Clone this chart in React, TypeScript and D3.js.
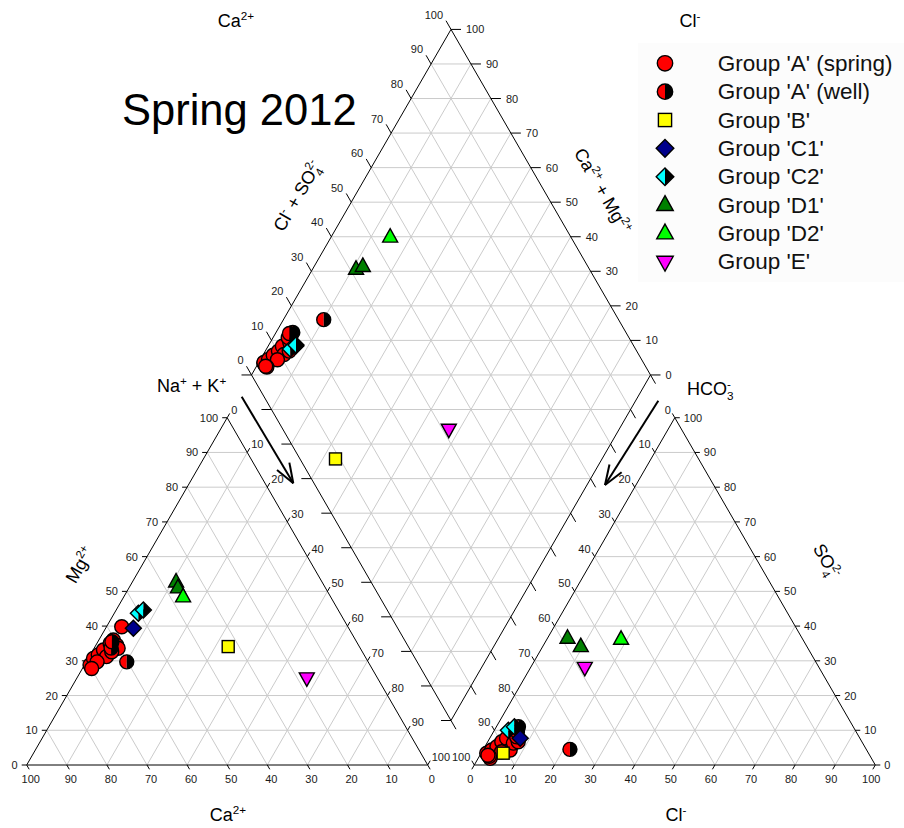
import React, { useEffect, useRef } from 'react';
import * as d3 from 'd3';

// legend groups
const groupKeys = ['As', 'Aw', 'B', 'C1', 'C2', 'D1', 'D2', 'E'];
const groupLabels = ["Group 'A' (spring)", "Group 'A' (well)", "Group 'B'", "Group 'C1'", "Group 'C2'", "Group 'D1'", "Group 'D2'", "Group 'E'"];

// samples (meq %), one entry per sample
const sampleGroup = ['As', 'As', 'As', 'As', 'As', 'As', 'As', 'As', 'As', 'As', 'As', 'As', 'As', 'Aw', 'Aw', 'Aw', 'B', 'C1', 'C2', 'C2', 'D1', 'D1', 'D2', 'E'];
const caPct = [69.8, 68.0, 66.3, 64.3, 61.7, 60.4, 60.3, 60.4, 64.5, 67.6, 69.9, 62.5, 56.4, 60.2, 62.1, 61.0, 32.7, 53.7, 50.3, 48.6, 36.4, 36.8, 36.8, 17.6];
const mgPct = [28.8, 30.7, 31.7, 33.1, 35.0, 36.0, 34.5, 33.6, 31.2, 29.7, 27.8, 32.6, 39.8, 29.7, 33.7, 35.5, 34.1, 39.4, 43.7, 44.6, 52.7, 51.0, 48.4, 25.1];
const nakPct = [1.4, 1.3, 2.0, 2.6, 3.3, 3.6, 5.2, 6.0, 4.3, 2.7, 2.3, 4.9, 3.8, 10.1, 4.2, 3.5, 33.2, 6.9, 6.0, 6.8, 10.9, 12.2, 14.8, 57.3];
const clPct = [1.4, 3.0, 2.2, 3.0, 3.5, 4.2, 6.8, 6.6, 4.9, 2.5, 2.0, 7.6, 6.5, 21.6, 5.5, 6.0, 5.5, 7.6, 3.5, 4.5, 5.0, 9.5, 18.5, 13.5];
const so4Pct = [3.4, 1.9, 4.3, 5.3, 6.7, 7.7, 4.3, 6.3, 3.8, 2.5, 2.8, 6.7, 8.1, 4.5, 11.0, 9.5, 3.4, 7.7, 10.0, 11.0, 36.5, 34.1, 36.2, 28.1];
const hco3Pct = [95.2, 95.1, 93.5, 91.7, 89.8, 88.1, 88.9, 87.1, 91.3, 95.0, 95.2, 85.7, 85.4, 73.9, 83.5, 84.5, 91.1, 84.7, 86.5, 84.5, 58.5, 56.4, 45.3, 58.4];

const tickValues = [0, 10, 20, 30, 40, 50, 60, 70, 80, 90, 100];
const gridValues = [10, 20, 30, 40, 50, 60, 70, 80, 90];

const FONT = "'Liberation Sans', Arial, sans-serif";
const S3 = Math.sqrt(3) / 2;

function App() {
  const ref = useRef(null);

  useEffect(() => {
    const svg = d3.select(ref.current);
    svg.selectAll('*').remove();

    // geometry
    const L = 401, base = 765, leftX0 = 26.7, rightX0 = 474.3;
    const Ld = 399, dcx = 451, dBottom = 720.5;

    const sx = d3.scaleLinear().domain([0, 100]).range([0, L]);
    const sy = d3.scaleLinear().domain([0, 100]).range([0, L * S3]);
    const dsx = d3.scaleLinear().domain([0, 100]).range([0, Ld / 2]);
    const dsy = d3.scaleLinear().domain([0, 100]).range([0, Ld * S3]);

    // cation triangle (mg, na+k), anion triangle (cl, so4), diamond (ca+mg, cl+so4)
    const cat = (mg, na) => [leftX0 + sx(na) + sx(mg) / 2, base - sy(mg)];
    const an = (cl, so4) => [rightX0 + sx(cl) + sx(so4) / 2, base - sy(so4)];
    const dia = (p, q) => [dcx + dsx(q) - dsx(p), dBottom - dsy(p) - dsy(q)];

    const grid = svg.append('g').attr('stroke', '#cbcbcb').attr('stroke-width', 1);
    const seg = (g, a, b) => g.append('line').attr('x1', a[0]).attr('y1', a[1]).attr('x2', b[0]).attr('y2', b[1]);

    gridValues.forEach(v => {
      // left triangle
      seg(grid, cat(v, 0), cat(v, 100 - v));
      seg(grid, cat(0, v), cat(100 - v, v));
      seg(grid, cat(100 - v, 0), cat(0, 100 - v));
      // right triangle
      seg(grid, an(0, v), an(100 - v, v));
      seg(grid, an(v, 0), an(v, 100 - v));
      seg(grid, an(100 - v, 0), an(0, 100 - v));
      // diamond
      seg(grid, dia(v, 0), dia(v, 100));
      seg(grid, dia(0, v), dia(100, v));
    });
    d3.range(10, 200, 10).forEach(s => {
      if (s <= 100) seg(grid, dia(s, 0), dia(0, s));
      else seg(grid, dia(100, s - 100), dia(s - 100, 100));
    });

    // outlines
    const axes = svg.append('g').attr('stroke', '#000').attr('stroke-width', 1).attr('fill', 'none');
    const poly = pts => axes.append('path').attr('d', d3.line()(pts) + 'Z');
    poly([cat(0, 0), cat(0, 100), cat(100, 0)]);
    poly([an(0, 0), an(100, 0), an(0, 100)]);
    poly([dia(0, 0), dia(100, 0), dia(100, 100), dia(0, 100)]);

    const tickG = svg.append('g').attr('stroke', '#000').attr('stroke-width', 1);
    const labG = svg.append('g').attr('font-family', FONT).attr('font-size', 11).attr('fill', '#1a1a1a');
    const lab = (x, y, t, anchor) => labG.append('text').attr('x', x).attr('y', y).attr('text-anchor', anchor).text(t);
    const tick = (p, dx, dy) => seg(tickG, p, [p[0] + dx, p[1] + dy]);

    tickValues.forEach(v => {
      // left triangle: Ca bottom, Mg left, Na+K right
      let p = cat(0, 100 - v);
      tick(p, 2.5, 4.3); lab(p[0] + 4, 783, v, 'middle');
      p = cat(v, 0);
      tick(p, -5, 0); lab(p[0] - 9, p[1] + 4, v, 'end');
      p = cat(100 - v, v);
      tick(p, 2.5, -4.3); lab(p[0] + 4, p[1] - 4, v, 'start');
      // right triangle: Cl bottom, SO4 right, HCO3 left
      p = an(v, 0);
      tick(p, -2.5, 4.3); lab(p[0] - 4, 783, v, 'middle');
      p = an(100 - v, v);
      tick(p, 5, 0); lab(p[0] + 9, p[1] + 4, v, 'start');
      p = an(0, 100 - v);
      tick(p, -2.5, -4.3); lab(p[0] - 4, p[1] - 4, v, 'end');
      // diamond
      p = dia(100, v);
      tick(p, -5, -8.7); lab(p[0] - 8, p[1] - 10.5, v, 'end');
      p = dia(v, 100);
      tick(p, 10, 0); lab(p[0] + 15, p[1] + 4, v, 'start');
      tick(dia(v, 0), -10, 0);
      tick(dia(0, v), 5, 8.7);
    });

    // rich text helper: parts [text, kind]
    const rich = (g, x, y, parts, size, anchor) => {
      const t = g.append('text').attr('x', x).attr('y', y).attr('text-anchor', anchor)
        .attr('font-family', FONT).attr('font-size', size).attr('fill', '#000');
      let cur = 0;
      parts.forEach(([txt, kind]) => {
        const target = kind === 'sup' || kind === 'stack' ? -size * 0.4 : kind === 'sub' ? size * 0.3 : 0;
        const ts = t.append('tspan').attr('dy', target - cur).text(txt);
        if (kind !== '') ts.attr('font-size', size * 0.65);
        if (kind === 'stack') ts.attr('dx', -size * 0.36);
        cur = target;
      });
      return t;
    };
    const rot = (cx, cy, a, parts) => {
      const g = svg.append('g').attr('transform', `translate(${cx},${cy}) rotate(${a})`);
      rich(g, 0, 6, parts, 18, 'middle');
    };

    const caT = [['Ca', ''], ['2+', 'sup']];
    const clT = [['Cl', ''], ['-', 'sup']];
    rich(svg, 236, 27, caT, 18, 'middle');
    rich(svg, 690, 27, clT, 18, 'middle');
    rich(svg, 228, 821, caT, 18, 'middle');
    rich(svg, 676, 821, clT, 18, 'middle');
    rich(svg, 157, 392, [['Na', ''], ['+', 'sup'], [' + K', ''], ['+', 'sup']], 18, 'start');
    rich(svg, 687, 395, [['HCO', ''], ['3', 'sub'], ['-', 'stack']], 18, 'start');
    rot(80, 565, -60, [['Mg', ''], ['2+', 'sup']]);
    rot(297.5, 196, -60, [['Cl', ''], ['-', 'sup'], [' + SO', ''], ['4', 'sub'], ['2-', 'stack']]);
    rot(602.5, 191, 60, [['Ca', ''], ['2+', 'sup'], [' + Mg', ''], ['2+', 'sup']]);
    rot(826.7, 561, 60, [['SO', ''], ['4', 'sub'], ['2-', 'stack']]);

    svg.append('text').attr('x', 122).attr('y', 125).attr('font-family', FONT)
      .attr('font-size', 43.5).attr('fill', '#000').text('Spring 2012');

    // arrows
    const arrow = (a, b) => {
      const g = svg.append('g').attr('stroke', '#000').attr('stroke-width', 2).attr('fill', 'none');
      seg(g, a, b);
      const ang = Math.atan2(a[1] - b[1], a[0] - b[0]);
      [-0.35, 0.35].forEach(d => {
        seg(g, b, [b[0] + 21 * Math.cos(ang + d), b[1] + 21 * Math.sin(ang + d)]);
      });
    };
    arrow([241.7, 396.7], [293.3, 483.3]);
    arrow([658.3, 400.7], [605, 485]);

    // markers
    const marker = (g, key, x, y, k) => {
      const sw = 1.4;
      const m = g.append('g').attr('transform', `translate(${x},${y}) scale(${k})`)
        .attr('stroke', '#000').attr('stroke-width', sw / k);
      const r = 7;
      if (key === 'As') m.append('circle').attr('r', r).attr('fill', '#ff0000');
      else if (key === 'Aw') {
        m.append('path').attr('d', `M0,${-r}A${r},${r} 0 0 0 0,${r}Z`).attr('fill', '#ff0000').attr('stroke', 'none');
        m.append('path').attr('d', `M0,${-r}A${r},${r} 0 0 1 0,${r}Z`).attr('fill', '#000').attr('stroke', 'none');
        m.append('circle').attr('r', r).attr('fill', 'none');
      } else if (key === 'B') m.append('rect').attr('x', -6).attr('y', -6).attr('width', 12).attr('height', 12).attr('fill', '#ffff00');
      else if (key === 'C1') m.append('path').attr('d', 'M0,-8L8,0L0,8L-8,0Z').attr('fill', '#00008b');
      else if (key === 'C2') {
        m.append('path').attr('d', 'M0,-8L0,8L-8,0Z').attr('fill', '#00ffff').attr('stroke', 'none');
        m.append('path').attr('d', 'M0,-8L8,0L0,8Z').attr('fill', '#000').attr('stroke', 'none');
        m.append('path').attr('d', 'M0,-8L8,0L0,8L-8,0Z').attr('fill', 'none');
      } else if (key === 'D1' || key === 'D2') m.append('path').attr('d', 'M0,-8.5L7.5,5L-7.5,5Z').attr('fill', key === 'D1' ? '#008000' : '#00ff00');
      else if (key === 'E') m.append('path').attr('d', 'M0,8.5L7.5,-5L-7.5,-5Z').attr('fill', '#ff00ff');
    };

    const pts = svg.append('g');
    sampleGroup.forEach((key, i) => {
      const c = cat(mgPct[i], nakPct[i]);
      marker(pts, key, c[0], c[1], 1);
    });
    sampleGroup.forEach((key, i) => {
      const a = an(clPct[i], so4Pct[i]);
      marker(pts, key, a[0], a[1], 1);
    });
    sampleGroup.forEach((key, i) => {
      const d = dia(caPct[i] + mgPct[i], 100 - hco3Pct[i]);
      marker(pts, key, d[0], d[1], 1);
    });

    // legend
    const leg = svg.append('g');
    leg.append('rect').attr('x', 638).attr('y', 43).attr('width', 266).attr('height', 239).attr('fill', '#fcfcfc');
    groupKeys.forEach((key, i) => {
      const y = 63.3 + i * 28.35;
      marker(leg, key, 665, y, 1.1);
      leg.append('text').attr('x', 717.7).attr('y', y + 7.5).attr('font-family', FONT)
        .attr('font-size', 22.5).attr('fill', '#111').text(groupLabels[i]);
    });
  }, []);

  return (
    <svg ref={ref} width={904} height={828}
      style={{ position: 'absolute', left: 0, top: 0, background: '#fff' }} />
  );
}

export default App;
